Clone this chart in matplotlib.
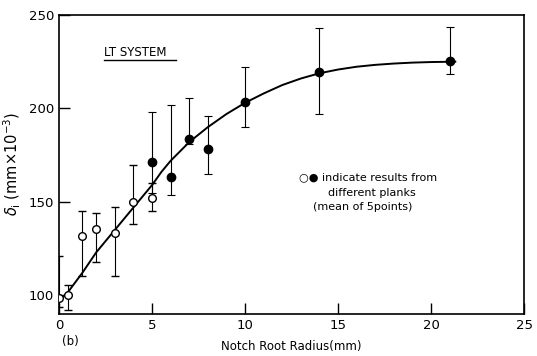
import matplotlib
matplotlib.use("Agg")
import matplotlib.pyplot as plt

# open circles (one plank)
open_x = [0, 0.5, 1.25, 2, 3, 4, 5]
open_y = [98.5, 100.3, 131.8, 135.7, 133.6, 150, 151.8]
open_lo = [93.5, 92, 110.3, 117.8, 110.3, 137.9, 145]
open_hi = [121, 105.4, 145, 144.3, 147.3, 169.6, 160]

# filled circles (other plank)
fill_x = [5, 6, 7, 8, 10, 14, 21]
fill_y = [171.5, 163.4, 183.6, 178.2, 203.5, 219.6, 225.5]
fill_lo = [155, 153.6, 181, 164.7, 190, 197.2, 218.6]
fill_hi = [198, 202, 205.8, 196.2, 222.3, 242.9, 243.8]

# hand drawn trend curve
curve_x = [0, 0.5, 1.25, 2, 3, 4, 5, 5.5, 6, 7, 8, 9, 10, 11, 12, 13, 14, 15, 16, 17, 18, 19, 20, 21.3]
curve_y = [97, 102, 112, 123, 135, 147, 159, 166, 172, 182, 190, 197, 203, 208, 212.5, 216, 218.8, 220.8, 222.3, 223.3, 224, 224.5, 224.8, 225]

fig = plt.figure(figsize=(5.37, 3.56), dpi=100)
ax = fig.add_axes([0.110, 0.118, 0.866, 0.840])

ax.plot(curve_x, curve_y, color="black", lw=1.4, zorder=2)

ax.errorbar(open_x, open_y,
            yerr=[[y - l for y, l in zip(open_y, open_lo)], [h - y for y, h in zip(open_y, open_hi)]],
            fmt="o", mfc="white", mec="black", ms=5.5, mew=1.0, ecolor="black",
            elinewidth=0.8, capsize=3, capthick=0.8, zorder=3)
ax.errorbar(fill_x, fill_y,
            yerr=[[y - l for y, l in zip(fill_y, fill_lo)], [h - y for y, h in zip(fill_y, fill_hi)]],
            fmt="o", mfc="black", mec="black", ms=6, ecolor="black",
            elinewidth=0.8, capsize=3, capthick=0.8, zorder=3)

ax.set_xlim(0, 25)
ax.set_ylim(90, 250)
ax.set_xticks([0, 5, 10, 15, 20, 25])
ax.set_yticks([100, 150, 200, 250])
ax.tick_params(direction="in", length=8, width=1, labelsize=9.5)
for s in ax.spines.values():
    s.set_linewidth(1.2)

ax.set_xlabel("Notch Root Radius(mm)", fontsize=8.5, labelpad=6)
ax.set_ylabel(r"$\delta_{\rm i}$ (mm$\times$10$^{-3}$)", fontsize=10.5, labelpad=4)

ax.text(2.4, 230, "LT SYSTEM", fontsize=8.5, ha="left", va="center")
ax.plot([2.4, 6.3], [226, 226], color="black", lw=1, clip_on=False)

ax.text(16.6, 163, "○● indicate results from", fontsize=8, ha="center", va="center")
ax.text(16.8, 155, "different planks", fontsize=8, ha="center", va="center")
ax.text(16.3, 147, "(mean of 5points)", fontsize=8, ha="center", va="center")

fig.text(0.115, 0.03, "(b)", fontsize=8.5)

fig.savefig("out.png", dpi=100)
